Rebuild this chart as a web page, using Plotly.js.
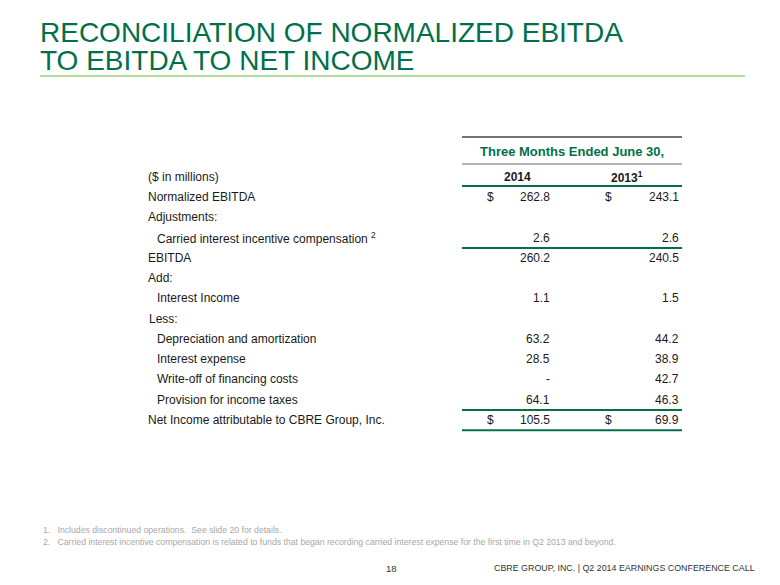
<!DOCTYPE html>
<html>
<head>
<meta charset="utf-8">
<script src="https://cdn.plot.ly/plotly-3.0.1.min.js"></script>
<style>html,body{margin:0;padding:0;background:#fff;}#chart{width:780px;height:585px;}</style>
</head>
<body>
<div id="chart"></div>
<script>
// ---- data ----
const titleLines = ["RECONCILIATION OF NORMALIZED EBITDA", "TO EBITDA TO NET INCOME"];
const periodHeader = "Three Months Ended June 30,";
const unitLabel = "($ in millions)";
const years = ["2014", "2013<sup>1</sup>"];
const rowLabels = [
  "Normalized EBITDA",
  "Adjustments:",
  "Carried interest incentive compensation <sup>2</sup>",
  "EBITDA",
  "Add:",
  "Interest Income",
  "Less:",
  "Depreciation and amortization",
  "Interest expense",
  "Write-off of financing costs",
  "Provision for income taxes",
  "Net Income attributable to CBRE Group, Inc."
];
const values2014 = ["262.8", "", "2.6", "260.2", "", "1.1", "", "63.2", "28.5", "-", "64.1", "105.5"];
const values2013 = ["243.1", "", "2.6", "240.5", "", "1.5", "", "44.2", "38.9", "42.7", "46.3", "69.9"];
const dollarRows = ["Normalized EBITDA", "Net Income attributable to CBRE Group, Inc."];
const footnotes = [
  "1.   Includes discontinued operations.  See slide 20 for details.",
  "2.   Carried interest incentive compensation is related to funds that began recording carried interest expense for the first time in Q2 2013 and beyond."
];
const pageNumber = "18";
const footerText = "CBRE GROUP, INC. | Q2 2014 EARNINGS CONFERENCE CALL";

// ---- layout / styles ----
const GREEN = "#00704a";
const TEXT = "#1a1a1a";
const FONT = "Liberation Sans, Arial, sans-serif";
const indentRows = {"Carried interest incentive compensation <sup>2</sup>":9, "Interest Income":9,
  "Depreciation and amortization":9, "Interest expense":9, "Write-off of financing costs":9,
  "Provision for income taxes":9, "Less:":1};
const lineAfter = {"Carried interest incentive compensation <sup>2</sup>":1, "Provision for income taxes":1,
  "Net Income attributable to CBRE Group, Inc.":1};

const ann = [];
const shapes = [];
const labelX = 146, col1R = 552, col2R = 681, dol1X = 485, dol2X = 603;
const lineX0 = 462, lineX1 = 682;
const row0 = 197, rowH = 20.25;

titleLines.forEach((t, i) => ann.push({x: 38, y: 32 + i * 28, text: t, xanchor: "left", yanchor: "middle",
  font: {family: FONT, size: 28, color: GREEN}}));
shapes.push({type: "line", x0: 40, x1: 745, y0: 76, y1: 76, line: {color: "#9ad27a", width: 1.5}});

// header
shapes.push({type: "line", x0: lineX0, x1: lineX1, y0: 137, y1: 137, line: {color: "#444", width: 1.5}});
ann.push({x: (lineX0 + lineX1) / 2, y: 151, text: "<b>" + periodHeader + "</b>", xanchor: "center", yanchor: "middle",
  font: {family: FONT, size: 13, color: GREEN}});
shapes.push({type: "line", x0: lineX0, x1: lineX1, y0: 164, y1: 164, line: {color: "#999", width: 1.5}});
ann.push({x: labelX, y: 177, text: unitLabel, xanchor: "left", yanchor: "middle", font: {family: FONT, size: 12, color: TEXT}});
ann.push({x: 517, y: 177, text: "<b>" + years[0] + "</b>", xanchor: "center", yanchor: "middle", font: {family: FONT, size: 12, color: TEXT}});
ann.push({x: 627, y: 177, text: "<b>" + years[1] + "</b>", xanchor: "center", yanchor: "middle", font: {family: FONT, size: 12, color: TEXT}});
shapes.push({type: "line", x0: lineX0, x1: lineX1, y0: 186, y1: 186, line: {color: GREEN, width: 2}});

rowLabels.forEach((lab, i) => {
  const y = row0 + i * rowH;
  ann.push({x: labelX + (indentRows[lab] || 0), y: y, text: lab, xanchor: "left", yanchor: "middle",
    font: {family: FONT, size: 12, color: TEXT}});
  if (values2014[i]) ann.push({x: col1R, y: y, text: values2014[i], xanchor: "right", yanchor: "middle", font: {family: FONT, size: 12, color: TEXT}});
  if (values2013[i]) ann.push({x: col2R, y: y, text: values2013[i], xanchor: "right", yanchor: "middle", font: {family: FONT, size: 12, color: TEXT}});
  if (dollarRows.includes(lab)) {
    ann.push({x: dol1X, y: y, text: "$", xanchor: "left", yanchor: "middle", font: {family: FONT, size: 12, color: TEXT}});
    ann.push({x: dol2X, y: y, text: "$", xanchor: "left", yanchor: "middle", font: {family: FONT, size: 12, color: TEXT}});
  }
  if (lineAfter[lab]) shapes.push({type: "line", x0: lineX0, x1: lineX1, y0: y + 10.5, y1: y + 10.5, line: {color: GREEN, width: 2}});
});

footnotes.forEach((f, i) => ann.push({x: 41, y: 530 + i * 12, text: f, xanchor: "left", yanchor: "middle",
  font: {family: FONT, size: 8.7, color: "#a8a8a8"}}));
ann.push({x: 391, y: 568, text: pageNumber, xanchor: "center", yanchor: "middle", font: {family: FONT, size: 9.5, color: "#333"}});
ann.push({x: 757, y: 568, text: footerText, xanchor: "right", yanchor: "middle", font: {family: FONT, size: 8.9, color: "#333"}});

ann.forEach(a => { a.xref = "x"; a.yref = "y"; a.showarrow = false; });
shapes.forEach(s => { s.xref = "x"; s.yref = "y"; });

Plotly.newPlot("chart", [], {
  width: 780, height: 585,
  margin: {l: 0, r: 0, t: 0, b: 0},
  paper_bgcolor: "#fff", plot_bgcolor: "#fff",
  xaxis: {range: [0, 780], visible: false, fixedrange: true},
  yaxis: {range: [585, 0], visible: false, fixedrange: true},
  annotations: ann, shapes: shapes, showlegend: false
}, {staticPlot: true});
</script>
</body>
</html>
